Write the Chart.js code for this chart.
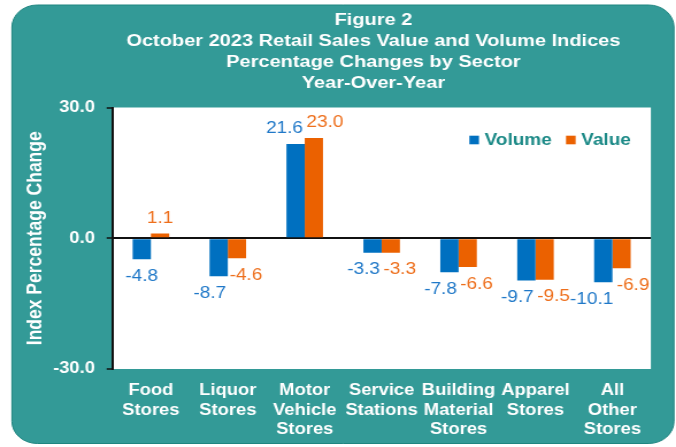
<!DOCTYPE html>
<html>
<head>
<meta charset="utf-8">
<script src="https://cdn.jsdelivr.net/npm/chart.js@4.4.0/dist/chart.umd.min.js"></script>
<style>
  html, body { margin: 0; padding: 0; background: #fff; overflow: hidden; }
  /* the reference is stretched sideways, so the chart is drawn narrow and widened */
  #wrap { width: 588px; height: 447px; transform: scaleX(1.1497); transform-origin: 0 0; }
</style>
</head>
<body>
<div id="wrap"><canvas id="chart"></canvas></div>
<script>
const categories = [
    ['Food', 'Stores'],
    ['Liquor', 'Stores'],
    ['Motor', 'Vehicle', 'Stores'],
    ['Service', 'Stations'],
    ['Building', 'Material', 'Stores'],
    ['Apparel', 'Stores'],
    ['All', 'Other', 'Stores']
]
const volumeChange = [-4.8, -8.7, 21.6, -3.3, -7.8, -9.7, -10.1]
const valueChange = [1.1, -4.6, 23.0, -3.3, -6.6, -9.5, -6.9]
const yTicks = [-30, 0, 30]
const titleLines = [
    'Figure 2',
    'October 2023 Retail Sales Value and Volume Indices',
    'Percentage Changes by Sector',
    'Year-Over-Year'
]

const FONT = '"Liberation Sans", Arial, sans-serif'
Chart.defaults.font.family = FONT

function roundedRect(ctx, x, y, w, h, r) {
    ctx.beginPath()
    ctx.moveTo(x + r, y)
    ctx.arcTo(x + w, y, x + w, y + h, r)
    ctx.arcTo(x + w, y + h, x, y + h, r)
    ctx.arcTo(x, y + h, x, y, r)
    ctx.arcTo(x, y, x + w, y, r)
    ctx.closePath()
}

// teal frame, white plot area
const framePlugin = {
    id: 'frame',
    beforeDraw(chart) {
        const { ctx, chartArea } = chart
        ctx.save()
        roundedRect(ctx, 10.4, 5, 575.8, 438.5, 22)
        ctx.fillStyle = '#339a97'
        ctx.fill()
        ctx.strokeStyle = '#1f8580'
        ctx.lineWidth = 1
        ctx.stroke()
        ctx.fillStyle = '#ffffff'
        ctx.fillRect(chartArea.left, chartArea.top, chartArea.right - chartArea.left, chartArea.bottom - chartArea.top)
        ctx.restore()
    },
    afterDraw(chart) {
        const ctx = chart.ctx
        ctx.save()
        ctx.fillStyle = '#ffffff'
        ctx.font = 'bold 17.4px ' + FONT
        ctx.textAlign = 'center'
        ctx.textBaseline = 'middle'
        titleLines.forEach((line, i) => ctx.fillText(line, 324.8, 20 + i * 21))
        ctx.restore()
    }
}

// legend inside the plot, top right
const legendPlugin = {
    id: 'insideLegend',
    afterDraw(chart) {
        const { ctx, chartArea } = chart
        ctx.save()
        ctx.font = 'bold 16.5px ' + FONT
        ctx.textBaseline = 'middle'
        const box = 8.4, gap = 4.9, space = 12.4
        const items = chart.data.datasets.map(ds => ({
            text: ds.label, color: ds.backgroundColor, w: ctx.measureText(ds.label).width
        }))
        const total = items.reduce((s, it) => s + box + gap + it.w, 0) + space * (items.length - 1)
        let x = chartArea.right - 17.4 - total
        const y = chartArea.top + 32.5
        items.forEach(it => {
            ctx.fillStyle = it.color
            ctx.fillRect(x, y - 4.3, box, 8.6)
            x += box + gap
            ctx.fillStyle = '#1c8a87'
            ctx.fillText(it.text, x, y)
            x += it.w + space
        })
        ctx.restore()
    }
}

// value labels above/below bars, pushed apart when they collide
const barLabelPlugin = {
    id: 'barLabels',
    afterDatasetsDraw(chart) {
        const ctx = chart.ctx
        ctx.save()
        ctx.font = '16.5px ' + FONT
        ctx.textAlign = 'center'
        ctx.textBaseline = 'middle'
        chart.data.labels.forEach((_, i) => {
            const items = chart.data.datasets.map((ds, d) => {
                const bar = chart.getDatasetMeta(d).data[i]
                const v = ds.data[i]
                const text = v.toFixed(1)
                return {
                    text, x: bar.x, y: v >= 0 ? bar.y - 15.5 : bar.y + 17,
                    w: ctx.measureText(text).width, color: ds.labelColor
                }
            })
            const [a, b] = items
            const need = a.w / 2 + b.w / 2 + 3 - (b.x - a.x)
            if (need > 0 && Math.abs(a.y - b.y) < 20) {
                a.x -= need / 2
                b.x += need / 2
            }
            items.forEach(it => {
                ctx.fillStyle = it.color
                ctx.fillText(it.text, it.x, it.y)
            })
        })
        ctx.restore()
    }
}

new Chart(document.getElementById('chart'), {
    type: 'bar',
    data: {
        labels: categories,
        datasets: [
            { label: 'Volume', data: volumeChange, backgroundColor: '#0070c0', labelColor: '#1f78c8' },
            { label: 'Value', data: valueChange, backgroundColor: '#eb6100', labelColor: '#ee6f1c' }
        ]
    },
    options: {
        responsive: true,
        maintainAspectRatio: false,
        animation: false,
        categoryPercentage: 0.475,
        barPercentage: 1,
        layout: { padding: { top: 107.5, right: 21.9, bottom: 0, left: 0 } },
        plugins: {
            legend: { display: false },
            tooltip: { enabled: false }
        },
        scales: {
            x: {
                grid: { display: false, drawTicks: false },
                border: { display: false },
                ticks: {
                    color: '#ffffff',
                    padding: 12,
                    maxRotation: 0,
                    autoSkip: false,
                    font: { size: 16, weight: 'bold', lineHeight: 1.22 }
                },
                afterFit: s => { s.height = 78 }
            },
            y: {
                min: -30,
                max: 30,
                afterBuildTicks: s => { s.ticks = yTicks.map(v => ({ value: v })) },
                grid: {
                    color: c => c.tick && c.tick.value === 0 ? '#111111' : 'rgba(0,0,0,0)',
                    lineWidth: 2,
                    tickColor: '#111111',
                    tickWidth: 1.5,
                    tickLength: 5
                },
                border: { display: true, color: '#111111', width: 2 },
                ticks: {
                    color: '#ffffff',
                    padding: 10.2,
                    font: { size: 16, weight: 'bold' },
                    callback: v => v.toFixed(1)
                },
                title: {
                    display: true,
                    text: 'Index Percentage Change',
                    color: '#ffffff',
                    font: { size: 17.5, weight: 'bold' },
                    padding: { top: 21, bottom: 0 }
                },
                afterFit: s => { s.width = 97.8 }
            }
        }
    },
    plugins: [framePlugin, legendPlugin, barLabelPlugin]
})
</script>
</body>
</html>
